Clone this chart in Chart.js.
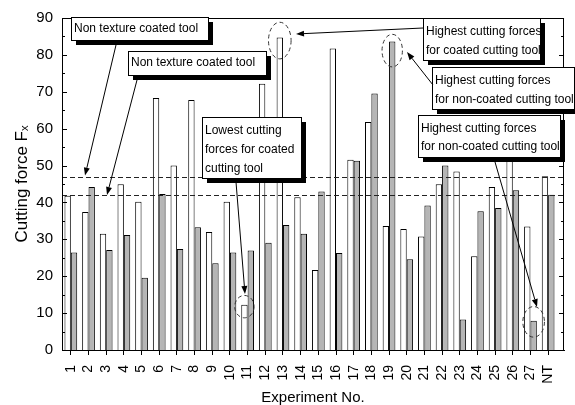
<!DOCTYPE html>
<html><head><meta charset="utf-8">
<script src="https://cdn.jsdelivr.net/npm/chart.js@4"></script>
<style>html,body{margin:0;padding:0;background:#fff}#wrap{width:575px;height:405px;position:relative}</style>
</head><body><div id="wrap"><canvas id="c"></canvas></div>
<script>
const experiments = ['1','2','3','4','5','6','7','8','9','10','11','12','13','14','15','16','17','18','19','20','21','22','23','24','25','26','27','NT'];
const coatedTool    = [41.8, 37.4, 31.5, 44.9, 40.2, 68.3, 50.0, 67.8, 32.0, 40.2, 12.3, 72.2, 84.7, 41.4, 21.7, 81.7, 51.6, 61.8, 33.6, 32.8, 30.8, 44.9, 48.4, 25.4, 44.2, 57.0, 33.5, 47.1];
const nonCoatedTool = [26.4, 44.2, 27.1, 31.2, 19.6, 42.3, 27.4, 33.3, 23.5, 26.4, 27.0, 29.1, 33.9, 31.5, 43.0, 26.3, 51.3, 69.5, 83.6, 24.6, 39.2, 50.0,  8.3, 37.6, 38.5, 43.3,  7.9, 42.1];
const referenceLevels = [47, 42];
const yMin = 0, yMax = 90, yStep = 10;
const xLabel = 'Experiment No.';
const yLabel = 'Cutting force F\u2093';

const xPos = experiments.map((_, i) => i + 1);
const FONT = '"Liberation Sans", Arial, sans-serif';

function drawArrow(ctx, x0, y0, x1, y1) {
  ctx.save();
  ctx.strokeStyle = '#000'; ctx.fillStyle = '#000'; ctx.lineWidth = 1;
  const a = Math.atan2(y1 - y0, x1 - x0);
  const L = 8, W = 3;
  const bx = x1 - L * Math.cos(a), by = y1 - L * Math.sin(a);
  ctx.beginPath(); ctx.moveTo(x0, y0); ctx.lineTo(bx, by); ctx.stroke();
  ctx.beginPath();
  ctx.moveTo(x1, y1);
  ctx.lineTo(bx + W * Math.sin(a), by - W * Math.cos(a));
  ctx.lineTo(bx - W * Math.sin(a), by + W * Math.cos(a));
  ctx.closePath(); ctx.fill();
  ctx.restore();
}
function drawBox(ctx, x0, y0, x1, y1, lines, tx, ys) {
  ctx.save();
  ctx.fillStyle = '#000'; ctx.fillRect(x0 + 5, y0 + 5, x1 - x0, y1 - y0);
  ctx.fillStyle = '#fff'; ctx.fillRect(x0, y0, x1 - x0, y1 - y0);
  ctx.strokeStyle = '#000'; ctx.lineWidth = 1; ctx.strokeRect(x0 + 0.5, y0 + 0.5, x1 - x0, y1 - y0);
  ctx.fillStyle = '#000'; ctx.font = '12px ' + FONT; ctx.textBaseline = 'middle'; ctx.textAlign = 'left';
  lines.forEach((t, i) => ctx.fillText(t, tx, ys[i]));
  ctx.restore();
}
function drawEllipse(ctx, cx, cy, rx, ry) {
  ctx.save();
  ctx.strokeStyle = '#333'; ctx.lineWidth = 1; ctx.setLineDash([4, 3]);
  ctx.beginPath(); ctx.ellipse(cx, cy, rx, ry, 0, 0, Math.PI * 2); ctx.stroke();
  ctx.restore();
}

const decorPlugin = {
  id: 'decor',
  afterDatasetsDraw(chart) {
    const ctx = chart.ctx, a = chart.chartArea, ys = chart.scales.y;
    ctx.save();
    ctx.strokeStyle = '#222'; ctx.lineWidth = 1; ctx.setLineDash([5, 3]);
    referenceLevels.forEach(v => {
      const yy = Math.round(ys.getPixelForValue(v)) + 0.5;
      ctx.beginPath(); ctx.moveTo(a.left, yy); ctx.lineTo(a.right, yy); ctx.stroke();
    });
    ctx.restore();
  },
  afterDraw(chart) {
    const ctx = chart.ctx, a = chart.chartArea, ys = chart.scales.y;
    ctx.save();
    ctx.strokeStyle = '#000'; ctx.lineWidth = 1;
    ctx.strokeRect(Math.round(a.left) + 0.5, Math.round(a.top) + 0.5, Math.round(a.right - a.left) - 1, Math.round(a.bottom - a.top));
    for (let v = yMin; v <= yMax; v += yStep / 2) {
      const yy = Math.round(ys.getPixelForValue(v)) + 0.5;
      const len = (v % yStep === 0) ? 5 : 3;
      ctx.beginPath();
      ctx.moveTo(a.left, yy); ctx.lineTo(a.left + len, yy);
      ctx.moveTo(a.right, yy); ctx.lineTo(a.right - len, yy);
      ctx.stroke();
    }
    ctx.restore();

    const m0 = chart.getDatasetMeta(0).data, m1 = chart.getDatasetMeta(1).data;
    drawEllipse(ctx, m0[10].x, m0[10].y + 2, 9.7, 11.2);
    drawEllipse(ctx, m0[12].x, m0[12].y + 3, 11.3, 18.3);
    drawEllipse(ctx, m1[18].x, m1[18].y + 9, 10.2, 16.3);
    drawEllipse(ctx, m1[26].x, m1[26].y + 1, 10.8, 15.3);

    drawBox(ctx, 71, 17, 208, 40, ['Non texture coated tool'], 74, [29]);
    drawArrow(ctx, 116, 45, 85, ys.getPixelForValue(referenceLevels[0]) - 1);
    drawBox(ctx, 128, 51, 266, 75, ['Non texture coated tool'], 131, [63]);
    drawArrow(ctx, 137, 80, 107, ys.getPixelForValue(referenceLevels[1]));
    drawBox(ctx, 202, 117, 301, 178, ['Lowest cutting', 'forces for coated', 'cutting tool'], 205, [131, 150, 169]);
    drawArrow(ctx, 236, 182, 245, 294);
    drawBox(ctx, 423, 18, 540, 60, ['Highest cutting forces', 'for coated cutting tool'], 426, [32, 51]);
    drawArrow(ctx, 423, 28, 296, 34);
    drawBox(ctx, 432, 67, 574, 109, ['Highest cutting forces', 'for non-coated cutting tool'], 435, [81, 99.5]);
    drawArrow(ctx, 433, 85, 407, 52);
    drawBox(ctx, 418, 115, 560, 157, ['Highest cutting forces', 'for non-coated cutting tool'], 421, [128.5, 147]);
    drawArrow(ctx, 495, 162, 537, 307);
  }
};

new Chart(document.getElementById('c'), {
  type: 'bar',
  data: {
    labels: xPos,
    datasets: [
      { label: 'Coated tool', data: coatedTool, backgroundColor: '#ffffff', borderColor: '#000', borderWidth: 1 },
      { label: 'Non-coated tool', data: nonCoatedTool, backgroundColor: '#b5b5b5', borderColor: '#000', borderWidth: 1 }
    ]
  },
  options: {
    responsive: true, maintainAspectRatio: false, animation: false,
    layout: { padding: { left: 0, right: 2, top: 14, bottom: 0 } },
    datasets: { bar: { categoryPercentage: 0.72, barPercentage: 1.0 } },
    plugins: { legend: { display: false }, tooltip: { enabled: false }, title: { display: false } },
    scales: {
      x: {
        type: 'linear', min: 0.5, max: 28.9, offset: false,
        afterBuildTicks: s => { s.ticks = xPos.map(v => ({ value: v })); },
        afterFit: s => { s.height = 55; },
        grid: { display: true, drawOnChartArea: false, drawTicks: true, tickLength: 5, color: '#000', lineWidth: 1, offset: false },
        border: { display: true, color: '#000', width: 1 },
        ticks: {
          autoSkip: false, minRotation: 90, maxRotation: 90, padding: 10,
          color: '#000', font: { family: FONT, size: 14 },
          callback: v => experiments[v - 1] ?? ''
        },
        title: { display: true, text: xLabel, color: '#000', font: { family: FONT, size: 15, lineHeight: 1.0 }, padding: { top: 0, bottom: 0 } }
      },
      y: {
        min: yMin, max: yMax,
        afterFit: s => { s.width = 62; },
        grid: { display: false, drawTicks: false, tickLength: 0 },
        border: { display: true, color: '#000', width: 1 },
        ticks: { stepSize: yStep, padding: 9, color: '#000', font: { family: FONT, size: 15 } },
        title: { display: true, text: yLabel, color: '#000', font: { family: FONT, size: 17 }, padding: { top: 12, bottom: 0 } }
      }
    }
  },
  plugins: [decorPlugin]
});
</script></body></html>
